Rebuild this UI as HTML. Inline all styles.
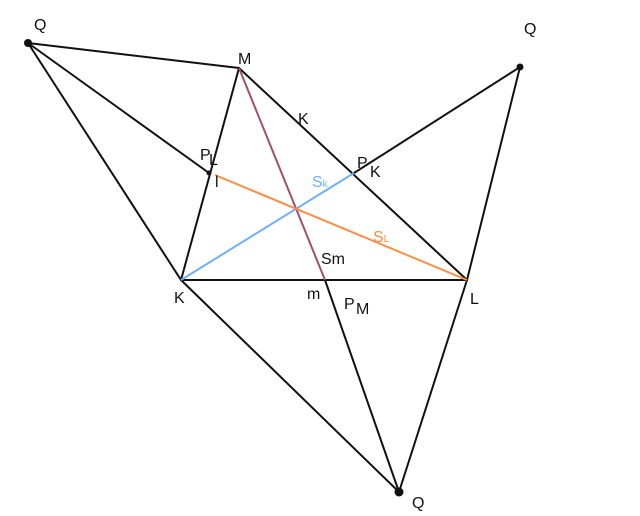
<!DOCTYPE html>
<html><head><style>
html,body{margin:0;padding:0;background:#fff;}
svg{display:block;}
text{font-family:"Liberation Sans",sans-serif;font-size:16px;fill:#111;}
</style></head><body>
<svg width="640" height="516" viewBox="0 0 640 516">
<g stroke="#111" stroke-width="2" fill="none" stroke-linecap="round">
<line x1="28" y1="43" x2="239" y2="68"/>
<line x1="28" y1="43" x2="181" y2="280"/>
<line x1="28" y1="43" x2="209" y2="173"/>
<line x1="239" y1="68" x2="181" y2="280"/>
<line x1="239" y1="68" x2="467" y2="280"/>
<line x1="181" y1="280" x2="467" y2="280"/>
<line x1="520" y1="67" x2="354" y2="173"/>
<line x1="520" y1="67" x2="467" y2="280"/>
<line x1="181" y1="280" x2="399" y2="492"/>
<line x1="467" y1="280" x2="399" y2="492"/>
<line x1="325" y1="280" x2="399" y2="492"/>
</g>
<line x1="239" y1="68" x2="325" y2="280" stroke="#a0506e" stroke-width="2"/>
<line x1="181" y1="280" x2="354" y2="173" stroke="#6fb0ff" stroke-width="2"/>
<line x1="215" y1="175" x2="467" y2="280" stroke="#ff8c40" stroke-width="2"/>
<circle cx="28" cy="43" r="4" fill="#111"/>
<circle cx="520" cy="67" r="3.5" fill="#111"/>
<circle cx="209" cy="173" r="2.5" fill="#111"/>
<circle cx="399" cy="492" r="4.5" fill="#111"/>
<text x="34" y="30" font-size="18">Q</text>
<text x="524" y="34" font-size="18">Q</text>
<text x="412" y="508" font-size="18">Q</text>
<text x="238" y="64" font-size="18">M</text>
<text x="298" y="124">K</text>
<text x="200" y="160">P</text><text x="209" y="165" font-size="10">L</text>
<text x="215" y="187">l</text>
<text x="357" y="168">P</text><text x="370" y="177" font-size="11">K</text>
<text x="312" y="187" style="fill:#6fb0ff" font-size="13">S<tspan font-size="10">k</tspan></text>
<text x="373" y="242" style="fill:#ff8c40" font-size="13">S<tspan font-size="10">L</tspan></text>
<text x="321" y="264" font-size="14">Sm</text>
<text x="174" y="303" font-size="17">K</text>
<text x="307" y="299" font-size="15">m</text>
<text x="344" y="309" font-size="17">P</text><text x="356" y="314" font-size="11">M</text>
<text x="470" y="304" font-size="17">L</text>
</svg>
</body></html>
